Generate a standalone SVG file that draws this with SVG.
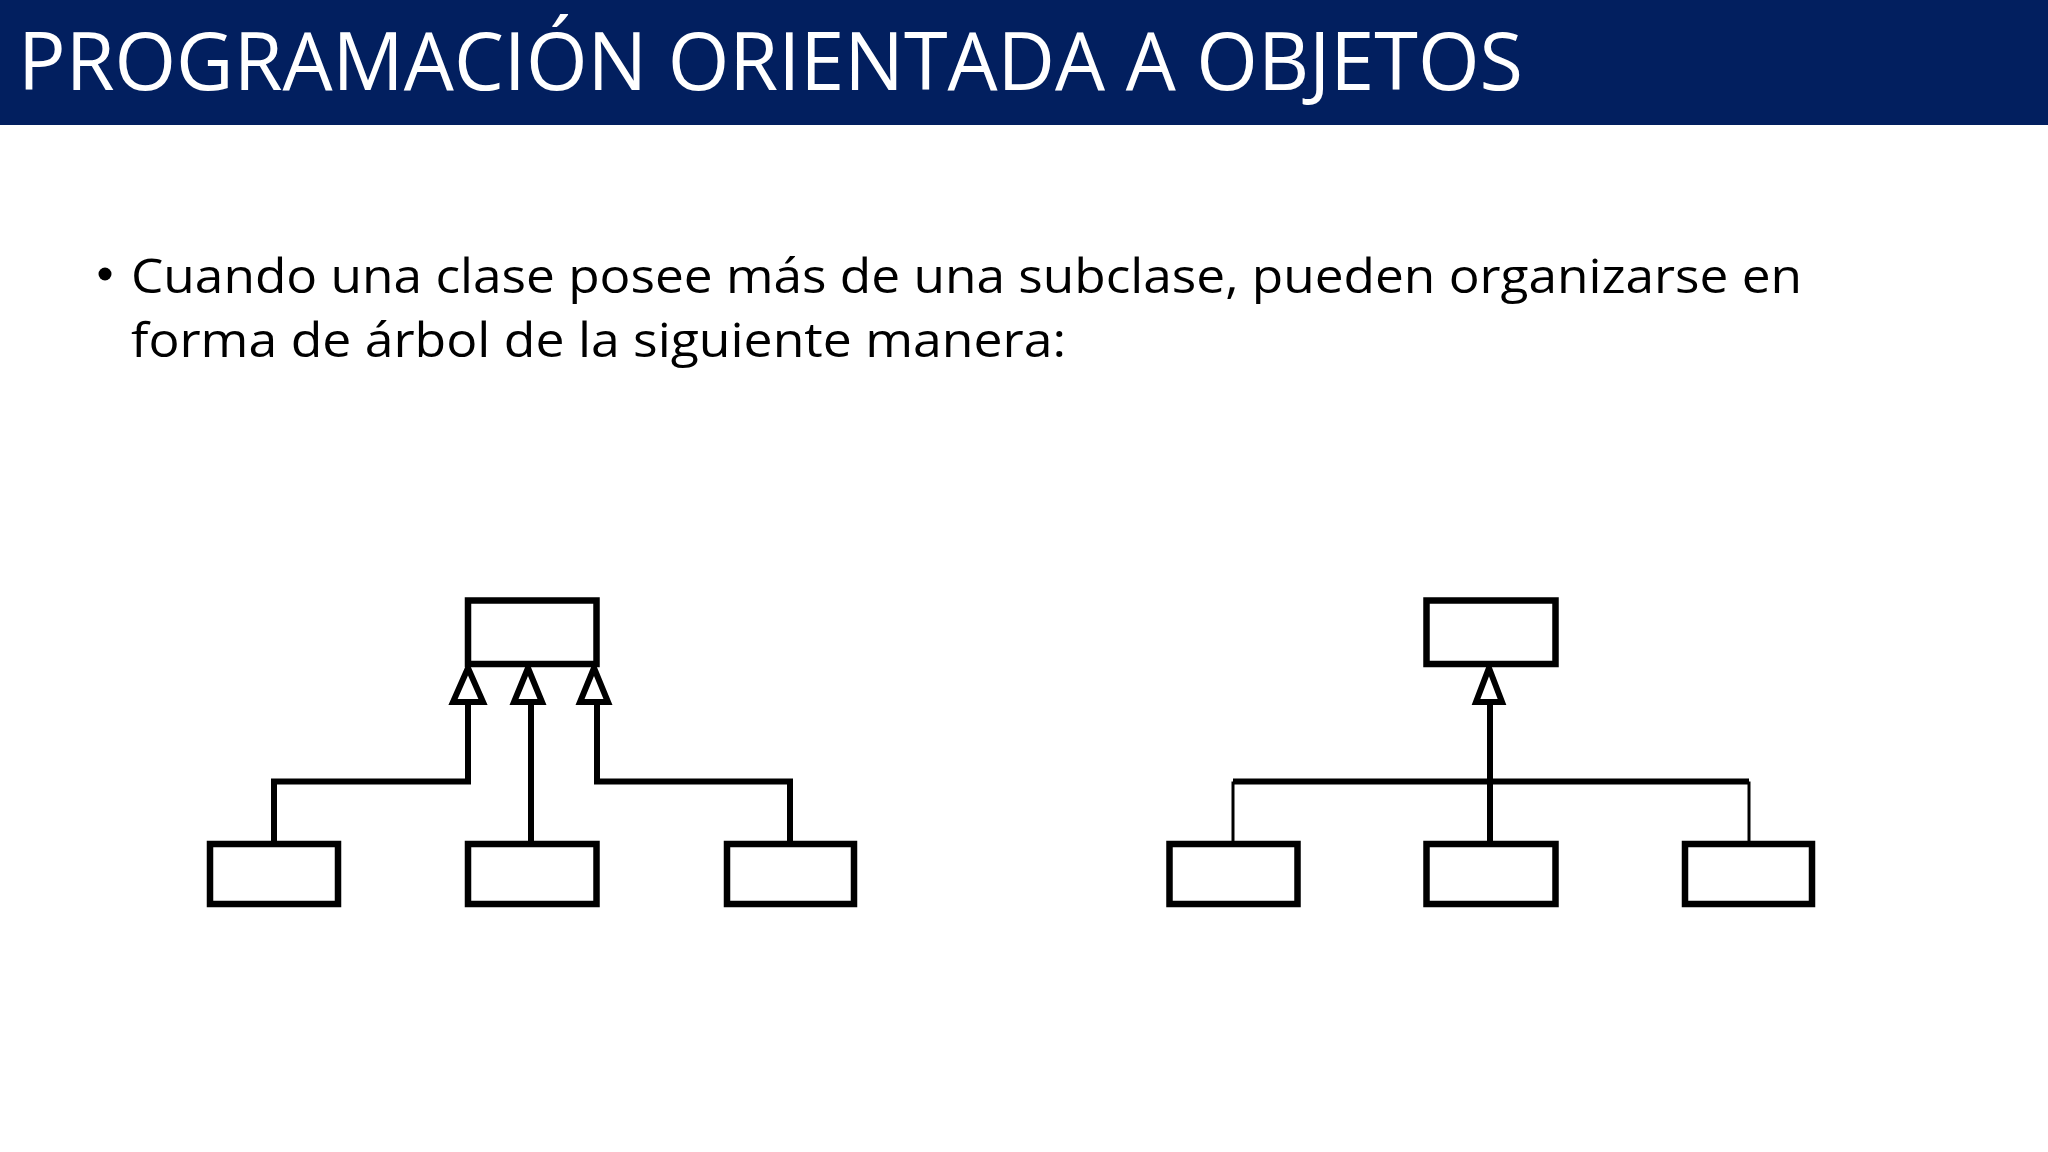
<svg xmlns="http://www.w3.org/2000/svg" width="2048" height="1152" viewBox="0 0 2048 1152">
<style>
.box{fill:#fff;stroke:#000;stroke-width:6.5}
.con{fill:none;stroke:#000;stroke-width:6;stroke-linejoin:miter}
.thin{fill:none;stroke:#000;stroke-width:3}
.tri{fill:#fff;stroke:#000;stroke-width:6;stroke-linejoin:miter}
.title{font-family:"Open Sans","Liberation Sans",sans-serif;font-size:80px;fill:#fff}
.body{font-family:"Open Sans","Liberation Sans",sans-serif;font-size:48px;fill:#000}
</style>
<rect x="0" y="0" width="2048" height="1152" fill="#fff"/>
<g id="header">
<rect x="0" y="0" width="2048" height="125" fill="#021f5f"/>
<text class="title" x="18" y="90" textLength="1505" lengthAdjust="spacingAndGlyphs">PROGRAMACIÓN ORIENTADA A OBJETOS</text>
</g>
<g id="bullet">
<circle cx="105" cy="274" r="6.5" fill="#000"/>
<text class="body" x="131" y="293" textLength="1671" lengthAdjust="spacingAndGlyphs">Cuando una clase posee más de una subclase, pueden organizarse en</text>
<text class="body" x="131" y="357" textLength="935" lengthAdjust="spacingAndGlyphs">forma de árbol de la siguiente manera:</text>
</g>
<g id="connectors">
<path class="con" d="M274,844 V781.5 H468 V702"/>
<path class="con" d="M531,844 V702"/>
<path class="con" d="M790,844 V781.5 H597 V702"/>
<path class="con" d="M1233,781.5 H1749"/>
<path class="thin" d="M1233,781.5 V844"/>
<path class="thin" d="M1749,781.5 V844"/>
<path class="con" d="M1490,844 V702"/>
<path class="tri" d="M468,668 L483,702 L453,702 Z"/>
<path class="tri" d="M528,668 L542,702 L514,702 Z"/>
<path class="tri" d="M594,668 L608,702 L580,702 Z"/>
<path class="tri" d="M1489,668 L1502,702 L1476,702 Z"/>
</g>
<g id="left-parent"><rect class="box" x="468" y="600.5" width="128.5" height="63.5"/></g>
<g id="left-child-1"><rect class="box" x="210" y="844" width="128" height="60"/></g>
<g id="left-child-2"><rect class="box" x="468" y="844" width="128.5" height="60"/></g>
<g id="left-child-3"><rect class="box" x="727" y="844" width="127" height="60"/></g>
<g id="right-parent"><rect class="box" x="1426.5" y="600.5" width="129" height="63.5"/></g>
<g id="right-child-1"><rect class="box" x="1169.5" y="844" width="128" height="60"/></g>
<g id="right-child-2"><rect class="box" x="1426.5" y="844" width="129" height="60"/></g>
<g id="right-child-3"><rect class="box" x="1685" y="844" width="127" height="60"/></g>
</svg>
